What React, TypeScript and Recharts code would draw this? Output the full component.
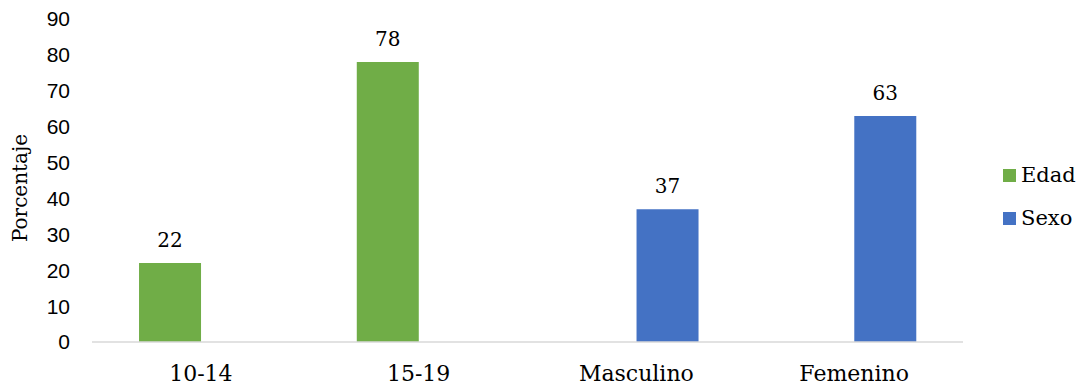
import {
    BarChart,
    Bar,
    XAxis,
    YAxis,
    Legend,
    LabelList,
    Label
} from 'recharts';

document.body.style.margin = '0';

const categories = ['10-14', '15-19', 'Masculino', 'Femenino'];
const edad = [22, 78, null, null];
const sexo = [null, null, 37, 63];
const yTicks = [0, 10, 20, 30, 40, 50, 60, 70, 80, 90];

const GREEN = '#70AD47';
const BLUE = '#4472C4';
const SLAB = '"DejaVu Serif", serif';
const SANS = '"Liberation Sans", Arial, sans-serif';

const data = categories.map((name, i) => ({
    name,
    Edad: edad[i],
    Sexo: sexo[i]
}));

const legendItems = [
    { label: 'Edad', color: GREEN },
    { label: 'Sexo', color: BLUE }
];

function ChartLegend() {
    return (
        <div style={{ display: 'flex', flexDirection: 'column', gap: 21 }}>
            {legendItems.map(item => (
                <div key={item.label} style={{ display: 'flex', alignItems: 'center', height: 22 }}>
                    <span style={{ width: 13, height: 13, background: item.color, marginRight: 5 }} />
                    <span style={{ fontFamily: SLAB, fontSize: 21, color: '#000' }}>{item.label}</span>
                </div>
            ))}
        </div>
    );
}

function AxisTitle() {
    return (
        <text
            x={20}
            y={188}
            transform="rotate(-90 20 188)"
            textAnchor="middle"
            dominantBaseline="central"
            fontFamily={SLAB}
            fontSize={20}
            fill="#000"
        >
            Porcentaje
        </text>
    );
}

export default function App() {
    return (
        <div style={{ width: 1084, height: 385, background: '#fff' }}>
            <BarChart
                width={1084}
                height={385}
                data={data}
                margin={{ top: 19, right: 40, left: 0, bottom: 13 }}
                barCategoryGap="21.6%"
                barGap={0}
            >
                <XAxis
                    dataKey="name"
                    axisLine={{ stroke: '#D9D9D9', strokeWidth: 1.5 }}
                    tickLine={false}
                    tickMargin={17}
                    tick={{ fill: '#000', fontSize: 22, fontFamily: SLAB }}
                    interval={0}
                />
                <YAxis
                    width={92}
                    domain={[0, 90]}
                    ticks={yTicks}
                    axisLine={false}
                    tickLine={false}
                    tickMargin={16}
                    tick={{ fill: '#000', fontSize: 21, fontFamily: SANS }}
                >
                    <Label content={<AxisTitle />} />
                </YAxis>
                <Legend
                    layout="vertical"
                    align="right"
                    verticalAnchor="middle"
                    wrapperStyle={{ left: 1003, top: 164, width: 81 }}
                    content={<ChartLegend />}
                />
                <Bar dataKey="Edad" fill={GREEN} isAnimationActive={false}>
                    <LabelList
                        dataKey="Edad"
                        position="top"
                        offset={16}
                        fill="#000"
                        fontSize={20}
                        fontFamily={SLAB}
                    />
                </Bar>
                <Bar dataKey="Sexo" fill={BLUE} isAnimationActive={false}>
                    <LabelList
                        dataKey="Sexo"
                        position="top"
                        offset={16}
                        fill="#000"
                        fontSize={20}
                        fontFamily={SLAB}
                    />
                </Bar>
            </BarChart>
        </div>
    );
}
